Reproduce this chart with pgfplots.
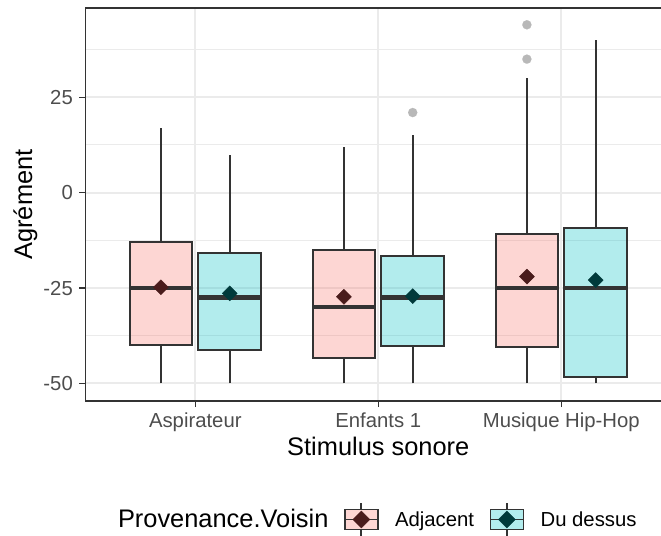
\documentclass[border=0pt]{standalone}
\usepackage{pgfplots}
\pgfplotsset{compat=1.18}
\usepackage{fontspec}
\setmainfont{Liberation Sans}

\definecolor{adj}{HTML}{F8766D}
\definecolor{dud}{HTML}{00BFC4}
\definecolor{adjmean}{HTML}{4A1C1C}
\definecolor{dudmean}{HTML}{003A3B}
\definecolor{grey20}{HTML}{333333}
\definecolor{grey30}{HTML}{4D4D4D}
\definecolor{grey92}{HTML}{EBEBEB}
\definecolor{outl}{HTML}{B8B8B8}

\newcommand\tickfont{\fontsize{20.3bp}{24bp}\selectfont}
\newcommand\titlefont{\fontsize{25.4bp}{30bp}\selectfont}

% one box: left, centre, right, lower whisker, Q1, median, Q3, upper whisker, colour
\newcommand\bx[9]{%
  \addplot[forget plot, draw=grey20, line width=2bp] coordinates {(#2,#4) (#2,#5)};
  \addplot[forget plot, draw=grey20, line width=2bp] coordinates {(#2,#7) (#2,#8)};
  \addplot[forget plot, fill=#9, fill opacity=0.3, draw=grey20, line width=2.1bp]
    coordinates {(#1,#5) (#3,#5) (#3,#7) (#1,#7)} -- cycle;
  \addplot[forget plot, draw=grey20, line width=4.2bp] coordinates {(#1,#6) (#3,#6)};
}

\pgfplotsset{
  keyimg/.style 2 args={legend image code/.code={
    \draw[grey20, line width=1.8bp] (16.5bp,10bp) -- (16.5bp,16.5bp);
    \draw[grey20, line width=1.8bp] (16.5bp,-10bp) -- (16.5bp,-16.5bp);
    \draw[grey20, line width=1.8bp, fill=#1, fill opacity=0.3] (0bp,-10bp) rectangle (33bp,10bp);
    \draw[grey20, line width=1.8bp] (0bp,0bp) -- (33bp,0bp);
    \fill[#2] (16.5bp,-8.5bp) -- (25bp,0bp) -- (16.5bp,8.5bp) -- (8bp,0bp) -- cycle;
  }},
}

\begin{document}
\begin{tikzpicture}
\useasboundingbox (0,0) rectangle (661bp,536bp);
\begin{axis}[
  at={(85.5bp,135bp)}, anchor=south west,
  scale only axis, width=585.6bp, height=393bp,
  xmin=0.4, xmax=3.6, ymin=-54.6, ymax=48.4,
  xtick={1,2,3}, xticklabels={Aspirateur,Enfants 1,Musique Hip-Hop},
  ytick={-50,-25,0,25}, yticklabels={-50,-25,0,25},
  minor ytick={-37.5,-12.5,12.5,37.5},
  xmajorgrids, ymajorgrids, yminorgrids,
  major grid style={grey92, line width=2bp},
  minor grid style={grey92, line width=1bp},
  axis line style={grey20, line width=1.4bp},
  major tick style={grey20, line width=1.4bp},
  minor tick style={draw=none},
  major tick length=6bp,
  tick align=outside, xtick pos=bottom, ytick pos=left,
  ticklabel style={font=\tickfont, text=grey30},
  yticklabel style={anchor=east, inner sep=0pt, xshift=-6.5bp},
  xticklabel style={anchor=base, inner sep=0pt, yshift=-20bp},
  xlabel={Stimulus sonore}, ylabel={Agrément},
  label style={font=\titlefont},
  xlabel style={at={(axis description cs:0.5,-0.1374)}, anchor=base, inner sep=0pt},
  ylabel style={at={(axis description cs:-0.1025,0.5)}, anchor=center},
  legend style={at={(axis description cs:0.9413,-0.3015)}, anchor=east,
    draw=none, fill=none, inner sep=0pt, font=\tickfont,
    legend columns=-1, nodes={inner sep=0pt},
    /tikz/every odd column/.append style={column sep=16.3bp},
    /tikz/every even column/.append style={column sep=15.5bp}},
]
% Adjacent
\bx{0.641}{0.812}{0.983}{-50}{-40}{-25}{-13}{17}{adj}
\bx{1.641}{1.812}{1.983}{-50}{-43.4}{-30}{-15}{12}{adj}
\bx{2.641}{2.812}{2.983}{-50}{-40.4}{-25}{-10.8}{30}{adj}
% Du dessus
\bx{1.017}{1.188}{1.359}{-50}{-41.2}{-27.5}{-15.9}{10}{dud}
\bx{2.017}{2.188}{2.359}{-50}{-40.1}{-27.5}{-16.6}{15}{dud}
\bx{3.017}{3.188}{3.359}{-50}{-48.2}{-25}{-9.3}{40}{dud}
% outliers
\addplot[only marks, forget plot, mark=*, mark size=4.6bp, mark options={draw=outl, fill=outl, line width=0.1bp}]
  coordinates {(2.188,21) (2.812,44) (2.812,35)};
% means
\addplot[only marks, forget plot, mark=square*, mark size=5.3bp, mark options={rotate=45, fill=adjmean, draw=adjmean}]
  coordinates {(0.812,-24.8) (1.812,-27.3) (2.812,-22.0)};
\addplot[only marks, forget plot, mark=square*, mark size=5.3bp, mark options={rotate=45, fill=dudmean, draw=dudmean}]
  coordinates {(1.188,-26.4) (2.188,-27.1) (3.188,-22.9)};
% legend
\addlegendimage{empty legend}
\addlegendentry[font=\titlefont]{Provenance.Voisin}
\addlegendimage{keyimg={adj}{adjmean}}
\addlegendentry{Adjacent}
\addlegendimage{keyimg={dud}{dudmean}}
\addlegendentry{Du dessus}
\end{axis}
\end{tikzpicture}
\end{document}
